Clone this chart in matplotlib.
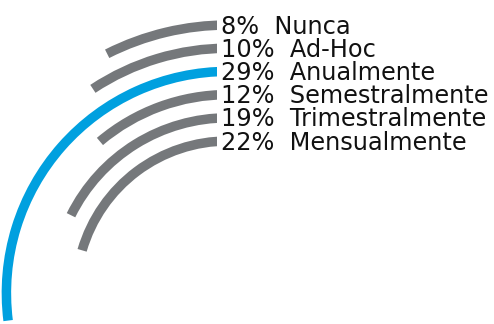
import matplotlib
matplotlib.use("Agg")
import matplotlib.pyplot as plt
from matplotlib.patches import Wedge, Rectangle

# response frequency, outer ring first
labels = ["Nunca", "Ad-Hoc", "Anualmente", "Semestralmente", "Trimestralmente", "Mensualmente"]
pcts = [8, 10, 29, 12, 19, 22]
highlight = "Anualmente"

GREY = "#75787b"
BLUE = "#00a0df"

W, H = 494, 324          # canvas in pixels; axes use pixel units
CX, CY = 228, 31         # common centre of the rings
R_OUTER = 268            # centre line of the outermost ring
STEP = 23.2              # gap between ring centre lines
THICK = 9.5              # ring thickness
DEG_PER_PCT = 3.35       # sweep per percentage point
CUT_X = 217              # rings stop here, labels start just right of it


def main() -> None:
    fig = plt.figure(figsize=(W / 100, H / 100), dpi=100)
    ax = fig.add_axes([0, 0, 1, 1])
    ax.set_xlim(0, W)
    ax.set_ylim(0, H)
    ax.set_aspect("equal")
    ax.axis("off")

    clip = Rectangle((0, 0), CUT_X, H, transform=ax.transData)

    for i, (name, v) in enumerate(zip(labels, pcts)):
        r = R_OUTER - i * STEP
        color = BLUE if name == highlight else GREY
        ring = Wedge((CX, CY), r + THICK / 2, 90, 90 + v * DEG_PER_PCT,
                     width=THICK, facecolor=color, edgecolor="none")
        ax.add_patch(ring)
        ring.set_clip_path(clip)
        ax.text(220.5, CY + r - 8.5, f"{v}%  {name}", fontsize=17.3,
                ha="left", va="baseline", color="#111111")

    fig.savefig("out.png", dpi=100)
    plt.close(fig)


if __name__ == "__main__":
    main()
